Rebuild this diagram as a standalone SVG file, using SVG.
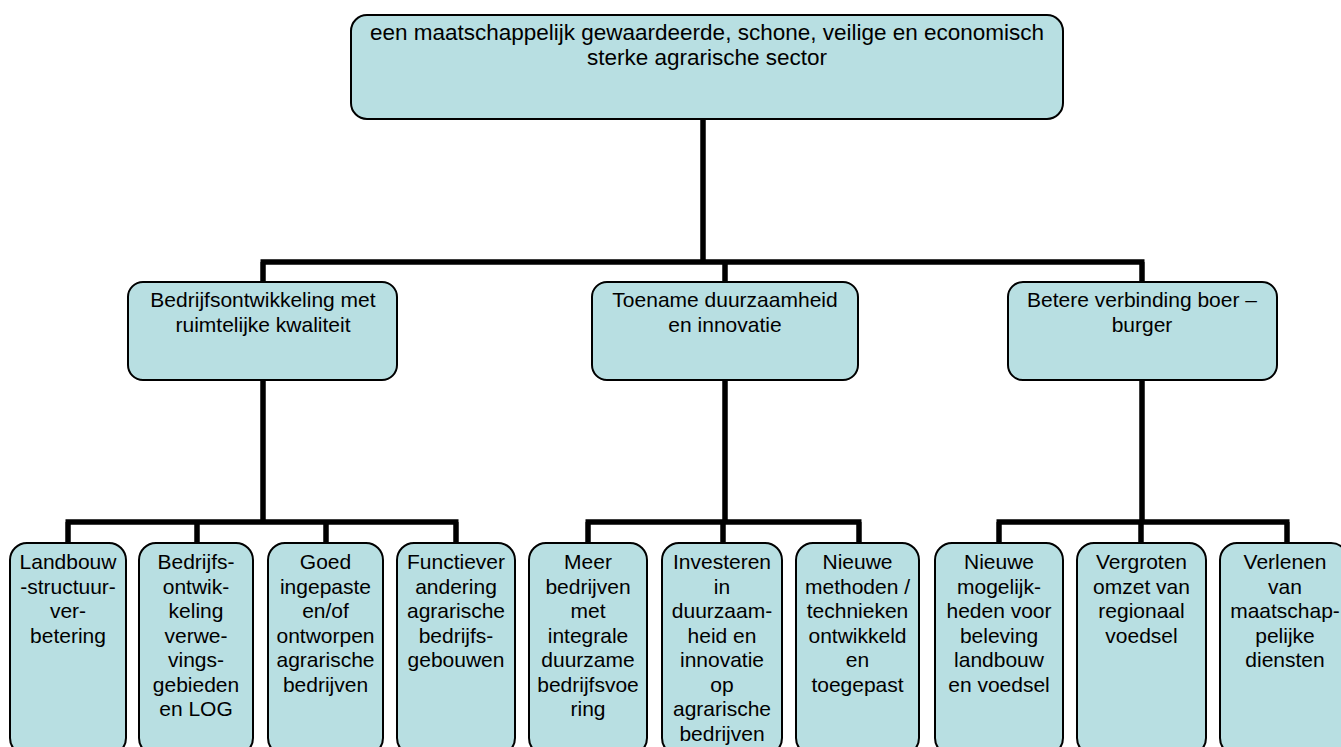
<svg xmlns="http://www.w3.org/2000/svg" width="1341" height="747" viewBox="0 0 1341 747">
<style>
.box{fill:#b8dfe2;stroke:#000;stroke-width:2}
.t{font-family:"Liberation Sans",Arial,sans-serif;font-size:21px;fill:#000;text-anchor:middle}
.tt{font-family:"Liberation Sans",Arial,sans-serif;font-size:22.5px;fill:#000;text-anchor:middle}
.c{fill:none;stroke:#000;stroke-width:5.5;stroke-linecap:butt;stroke-linejoin:miter}
</style>
<rect width="1341" height="747" fill="#fff"/>
<g id="connectors">
<path class="c" d="M703 119V262M260.5 262H1144.5M263 262V282M725 262V282M1142 262V282"/>
<path class="c" d="M263 380V522M65.5 522H458.5M68 522V543M197 522V543M326 522V543M456 522V543"/>
<path class="c" d="M725 380V522M585.5 522H861.5M588 522V543M723 522V543M859 522V543"/>
<path class="c" d="M1142 380V522M996.5 522H1289.5M999 522V543M1141 522V543M1287 522V543"/>
</g>
<g id="n0"><rect class="box" x="351" y="15" width="712" height="104" rx="16"/>
<text class="tt" x="707" y="40">een maatschappelijk gewaardeerde, schone, veilige en economisch</text>
<text class="tt" x="707" y="65">sterke agrarische sector</text></g>
<g id="n1"><rect class="box" x="128" y="282" width="269" height="98" rx="15"/>
<text class="t" x="263" y="307">Bedrijfsontwikkeling met</text><text class="t" x="263" y="332">ruimtelijke kwaliteit</text></g>
<g id="n2"><rect class="box" x="592" y="282" width="266" height="98" rx="15"/>
<text class="t" x="725" y="307">Toename duurzaamheid</text><text class="t" x="725" y="332">en innovatie</text></g>
<g id="n3"><rect class="box" x="1008" y="282" width="269" height="98" rx="15"/>
<text class="t" x="1142" y="307">Betere verbinding boer –</text><text class="t" x="1142" y="332">burger</text></g>
<g id="b1"><rect class="box" x="10" y="543" width="116" height="212" rx="17"/>
<text class="t"><tspan x="68" y="569">Landbouw</tspan><tspan x="68" dy="24.5">-structuur-</tspan><tspan x="68" dy="24.5">ver-</tspan><tspan x="68" dy="24.5">betering</tspan></text></g>
<g id="b2"><rect class="box" x="139" y="543" width="114" height="212" rx="17"/>
<text class="t"><tspan x="196" y="569">Bedrijfs-</tspan><tspan x="196" dy="24.5">ontwik-</tspan><tspan x="196" dy="24.5">keling</tspan><tspan x="196" dy="24.5">verwe-</tspan><tspan x="196" dy="24.5">vings-</tspan><tspan x="196" dy="24.5">gebieden</tspan><tspan x="196" dy="24.5">en LOG</tspan></text></g>
<g id="b3"><rect class="box" x="268" y="543" width="115" height="212" rx="17"/>
<text class="t"><tspan x="325.5" y="569">Goed</tspan><tspan x="325.5" dy="24.5">ingepaste</tspan><tspan x="325.5" dy="24.5">en/of</tspan><tspan x="325.5" dy="24.5">ontworpen</tspan><tspan x="325.5" dy="24.5">agrarische</tspan><tspan x="325.5" dy="24.5">bedrijven</tspan></text></g>
<g id="b4"><rect class="box" x="397" y="543" width="118" height="212" rx="17"/>
<text class="t"><tspan x="456" y="569">Functiever</tspan><tspan x="456" dy="24.5">andering</tspan><tspan x="456" dy="24.5">agrarische</tspan><tspan x="456" dy="24.5">bedrijfs-</tspan><tspan x="456" dy="24.5">gebouwen</tspan></text></g>
<g id="b5"><rect class="box" x="529" y="543" width="118" height="212" rx="17"/>
<text class="t"><tspan x="588" y="569">Meer</tspan><tspan x="588" dy="24.5">bedrijven</tspan><tspan x="588" dy="24.5">met</tspan><tspan x="588" dy="24.5">integrale</tspan><tspan x="588" dy="24.5">duurzame</tspan><tspan x="588" dy="24.5">bedrijfsvoe</tspan><tspan x="588" dy="24.5">ring</tspan></text></g>
<g id="b6"><rect class="box" x="662" y="543" width="120" height="212" rx="17"/>
<text class="t"><tspan x="722" y="569">Investeren</tspan><tspan x="722" dy="24.5">in</tspan><tspan x="722" dy="24.5">duurzaam-</tspan><tspan x="722" dy="24.5">heid en</tspan><tspan x="722" dy="24.5">innovatie</tspan><tspan x="722" dy="24.5">op</tspan><tspan x="722" dy="24.5">agrarische</tspan><tspan x="722" dy="24.5">bedrijven</tspan></text></g>
<g id="b7"><rect class="box" x="796" y="543" width="123" height="212" rx="17"/>
<text class="t"><tspan x="857.5" y="569">Nieuwe</tspan><tspan x="857.5" dy="24.5">methoden /</tspan><tspan x="857.5" dy="24.5">technieken</tspan><tspan x="857.5" dy="24.5">ontwikkeld</tspan><tspan x="857.5" dy="24.5">en</tspan><tspan x="857.5" dy="24.5">toegepast</tspan></text></g>
<g id="b8"><rect class="box" x="935" y="543" width="128" height="212" rx="17"/>
<text class="t"><tspan x="999" y="569">Nieuwe</tspan><tspan x="999" dy="24.5">mogelijk-</tspan><tspan x="999" dy="24.5">heden voor</tspan><tspan x="999" dy="24.5">beleving</tspan><tspan x="999" dy="24.5">landbouw</tspan><tspan x="999" dy="24.5">en voedsel</tspan></text></g>
<g id="b9"><rect class="box" x="1077" y="543" width="129" height="212" rx="17"/>
<text class="t"><tspan x="1141.5" y="569">Vergroten</tspan><tspan x="1141.5" dy="24.5">omzet van</tspan><tspan x="1141.5" dy="24.5">regionaal</tspan><tspan x="1141.5" dy="24.5">voedsel</tspan></text></g>
<g id="b10"><rect class="box" x="1220" y="543" width="128" height="212" rx="17"/>
<text class="t"><tspan x="1285" y="569">Verlenen</tspan><tspan x="1285" dy="24.5">van</tspan><tspan x="1285" dy="24.5">maatschap-</tspan><tspan x="1285" dy="24.5">pelijke</tspan><tspan x="1285" dy="24.5">diensten</tspan></text></g>
</svg>
